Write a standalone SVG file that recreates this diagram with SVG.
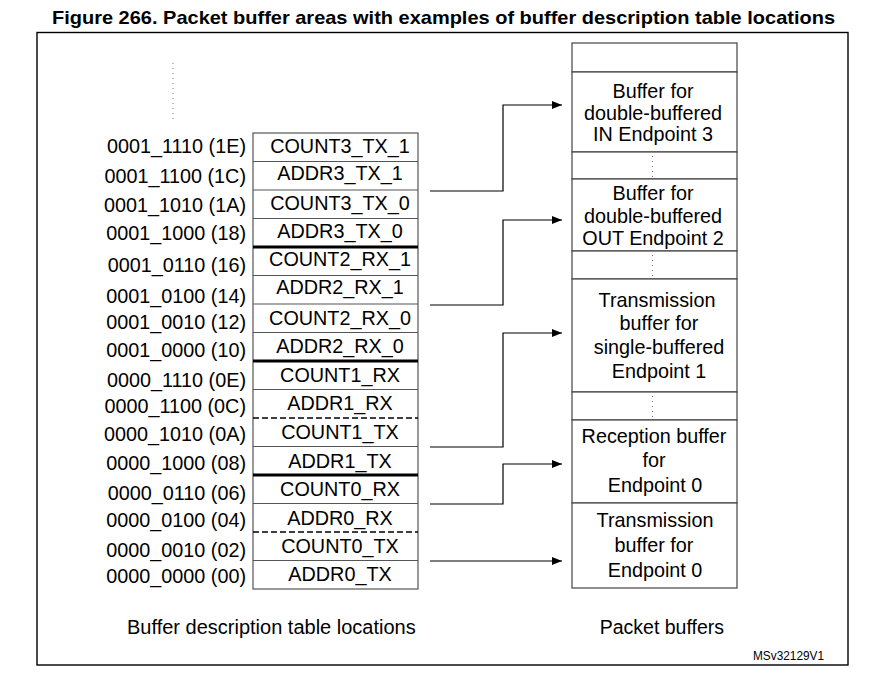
<svg xmlns="http://www.w3.org/2000/svg" width="883" height="696" viewBox="0 0 883 696">
<style>
text{font-family:"Liberation Sans",Arial,sans-serif;fill:#000}
.t{font-size:19.8px}
.m{text-anchor:middle}
.e{text-anchor:end}
.cell{fill:#fff;stroke:none}
.thin{stroke:#555;stroke-width:1.2;fill:none}
.thick{stroke:#000;stroke-width:3;fill:none}
.dash{stroke:#000;stroke-width:1.5;stroke-dasharray:6,3;fill:none}
.dot{stroke:#777;stroke-width:1;stroke-dasharray:1,4;fill:none}
.conn{stroke:#000;stroke-width:1.2;fill:none;marker-end:url(#ah)}
.box{fill:#fff;stroke:#444;stroke-width:1.2}
</style>
<defs>
<marker id="ah" viewBox="0 0 10 8" refX="10" refY="4" markerWidth="10" markerHeight="8" markerUnits="userSpaceOnUse" orient="auto">
<path d="M0,0 L10,4 L0,8 Z" fill="#000"/>
</marker>
</defs>
<rect width="883" height="696" fill="#fff"/>
<text x="443.5" y="24" class="m" style="font-size:18.5px;font-weight:bold" textLength="783" lengthAdjust="spacingAndGlyphs">Figure 266. Packet buffer areas with examples of buffer description table locations</text>
<rect x="37" y="32.5" width="811" height="632.5" fill="none" stroke="#000" stroke-width="1.4"/>

<line x1="173" y1="63" x2="173" y2="121" class="dot"/>

<g id="table">
<g id="row-1E"><rect class="cell" x="253" y="133" width="165" height="28.5"/><text class="t m" x="340" y="152.7">COUNT3_TX_1</text><text class="t e" x="246" y="153.3">0001_1110 (1E)</text></g>
<g id="row-1C"><rect class="cell" x="253" y="161.5" width="165" height="28.5"/><text class="t m" x="340" y="180">ADDR3_TX_1</text><text class="t e" x="246" y="183.3">0001_1100 (1C)</text></g>
<g id="row-1A"><rect class="cell" x="253" y="190" width="165" height="28.5"/><text class="t m" x="340" y="210">COUNT3_TX_0</text><text class="t e" x="246" y="211.7">0001_1010 (1A)</text></g>
<g id="row-18"><rect class="cell" x="253" y="218.5" width="165" height="28.5"/><text class="t m" x="340" y="238.3">ADDR3_TX_0</text><text class="t e" x="246" y="240">0001_1000 (18)</text></g>
<g id="row-16"><rect class="cell" x="253" y="247" width="165" height="28.5"/><text class="t m" x="340" y="266">COUNT2_RX_1</text><text class="t e" x="246" y="271.7">0001_0110 (16)</text></g>
<g id="row-14"><rect class="cell" x="253" y="275.5" width="165" height="28.5"/><text class="t m" x="340" y="294">ADDR2_RX_1</text><text class="t e" x="246" y="303">0001_0100 (14)</text></g>
<g id="row-12"><rect class="cell" x="253" y="304" width="165" height="28.5"/><text class="t m" x="340" y="325">COUNT2_RX_0</text><text class="t e" x="246" y="329">0001_0010 (12)</text></g>
<g id="row-10"><rect class="cell" x="253" y="332.5" width="165" height="28.5"/><text class="t m" x="340" y="353">ADDR2_RX_0</text><text class="t e" x="246" y="356.7">0001_0000 (10)</text></g>
<g id="row-0E"><rect class="cell" x="253" y="361" width="165" height="28.5"/><text class="t m" x="340" y="381.7">COUNT1_RX</text><text class="t e" x="246" y="386.7">0000_1110 (0E)</text></g>
<g id="row-0C"><rect class="cell" x="253" y="389.5" width="165" height="28.5"/><text class="t m" x="340" y="410">ADDR1_RX</text><text class="t e" x="246" y="413">0000_1100 (0C)</text></g>
<g id="row-0A"><rect class="cell" x="253" y="418" width="165" height="28.5"/><text class="t m" x="340" y="439.3">COUNT1_TX</text><text class="t e" x="246" y="440.7">0000_1010 (0A)</text></g>
<g id="row-08"><rect class="cell" x="253" y="446.5" width="165" height="28.5"/><text class="t m" x="340" y="468.3">ADDR1_TX</text><text class="t e" x="246" y="470">0000_1000 (08)</text></g>
<g id="row-06"><rect class="cell" x="253" y="475" width="165" height="28.5"/><text class="t m" x="340" y="496">COUNT0_RX</text><text class="t e" x="246" y="500">0000_0110 (06)</text></g>
<g id="row-04"><rect class="cell" x="253" y="503.5" width="165" height="28.5"/><text class="t m" x="340" y="525">ADDR0_RX</text><text class="t e" x="246" y="527.3">0000_0100 (04)</text></g>
<g id="row-02"><rect class="cell" x="253" y="532" width="165" height="28.5"/><text class="t m" x="340" y="552.7">COUNT0_TX</text><text class="t e" x="246" y="556.7">0000_0010 (02)</text></g>
<g id="row-00"><rect class="cell" x="253" y="560.5" width="165" height="28.5"/><text class="t m" x="340" y="580.7">ADDR0_TX</text><text class="t e" x="246" y="582.7">0000_0000 (00)</text></g>
<g id="table-lines">
<rect class="thin" x="253" y="133" width="165" height="456"/>
<path class="thin" d="M253,161.5H418M253,190H418M253,218.5H418M253,275.5H418M253,304H418M253,332.5H418M253,389.5H418M253,446.5H418M253,503.5H418M253,560.5H418"/>
<path class="thick" d="M253,247H418M253,361H418M253,475H418"/>
<path class="dash" d="M253,418H418M253,532H418"/>
</g>
</g>

<g id="packet-buffers">
<g id="pb-top"><rect class="box" x="572" y="43" width="165" height="29"/></g>
<g id="pb-ep3"><rect class="box" x="572" y="72" width="165" height="80"/>
<text class="t m" x="653" y="98.3">Buffer for</text><text class="t m" x="653" y="120">double-buffered</text><text class="t m" x="653" y="141">IN Endpoint 3</text></g>
<g id="pb-gap1"><rect class="box" x="572" y="152" width="165" height="27"/><line class="dot" x1="652.5" y1="156" x2="652.5" y2="177"/></g>
<g id="pb-ep2"><rect class="box" x="572" y="179" width="165" height="72"/>
<text class="t m" x="653" y="200">Buffer for</text><text class="t m" x="653" y="223">double-buffered</text><text class="t m" x="653" y="245">OUT Endpoint 2</text></g>
<g id="pb-gap2"><rect class="box" x="572" y="251" width="165" height="28"/><line class="dot" x1="652.5" y1="255" x2="652.5" y2="277"/></g>
<g id="pb-ep1"><rect class="box" x="572" y="279" width="165" height="113"/>
<text class="t m" x="657" y="307">Transmission</text><text class="t m" x="659" y="330">buffer for</text><text class="t m" x="659" y="354">single-buffered</text><text class="t m" x="659" y="378">Endpoint 1</text></g>
<g id="pb-gap3"><rect class="box" x="572" y="392" width="165" height="28"/><line class="dot" x1="652.5" y1="396" x2="652.5" y2="418"/></g>
<g id="pb-rx0"><rect class="box" x="572" y="420" width="165" height="83"/>
<text class="t m" x="654" y="443.3">Reception buffer</text><text class="t m" x="654" y="466.7">for</text><text class="t m" x="655" y="491.7">Endpoint 0</text></g>
<g id="pb-tx0"><rect class="box" x="572" y="503" width="165" height="85"/>
<text class="t m" x="655" y="527.3">Transmission</text><text class="t m" x="654" y="551.7">buffer for</text><text class="t m" x="655" y="576.7">Endpoint 0</text></g>
</g>

<g id="connectors">
<path class="conn" d="M430,191H503V105H562"/>
<path class="conn" d="M430,305H503V220H562"/>
<path class="conn" d="M430,447H503V333H562"/>
<path class="conn" d="M430,504H503V464H562"/>
<path class="conn" d="M430,561H562"/>
</g>

<text x="127" y="634.3" style="font-size:20px">Buffer description table locations</text>
<text class="e" x="724" y="634.3" style="font-size:19.5px">Packet buffers</text>
<text class="e" x="824" y="660" style="font-size:12px" textLength="71" lengthAdjust="spacingAndGlyphs">MSv32129V1</text>
</svg>
